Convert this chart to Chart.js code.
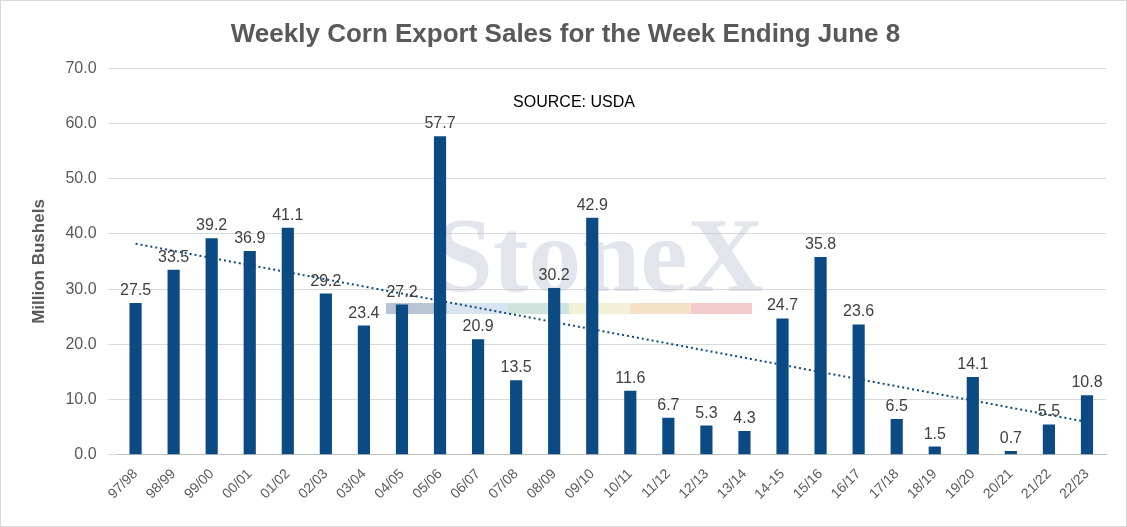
<!DOCTYPE html>
<html>
<head>
<script src="https://cdn.jsdelivr.net/npm/chart.js@4"></script>
<style>
  body { margin: 0; background: #fff; }
  #wrap { position: absolute; left: 0; top: 0; width: 1125px; height: 525px; border: 1px solid #d9d9d9; }
</style>
</head>
<body>
<div id="wrap"><canvas id="c" width="1125" height="525"></canvas></div>
<script>
const years = ['97/98','98/99','99/00','00/01','01/02','02/03','03/04','04/05','05/06','06/07','07/08','08/09','09/10',
  '10/11','11/12','12/13','13/14','14-15','15/16','16/17','17/18','18/19','19/20','20/21','21/22','22/23'];
const sales = [27.5,33.5,39.2,36.9,41.1,29.2,23.4,27.2,57.7,20.9,13.5,30.2,42.9,11.6,6.7,5.3,4.3,24.7,35.8,23.6,6.5,1.5,14.1,0.7,5.5,10.8];

// linear trend line fitted to the sales
const n = sales.length;
const mx = (n - 1) / 2;
const my = sales.reduce((a, b) => a + b, 0) / n;
let sxy = 0, sxx = 0;
sales.forEach((v, i) => { sxy += (i - mx) * (v - my); sxx += (i - mx) * (i - mx); });
const slope = sxy / sxx;
const trend = sales.map((_, i) => my + slope * (i - mx));

const extras = {
  id: 'extras',
  beforeDatasetsDraw(chart) {
    const { ctx } = chart;
    ctx.save();
    ctx.font = 'bold 106px "Liberation Serif"';
    ctx.fillStyle = 'rgba(185,194,208,0.42)';
    ctx.textAlign = 'center';
    ctx.fillText('StoneX', 598, 290);
    const cols = ['#b8c4d4','#d8e4f0','#cfe4dc','#f3f0d8','#f5e0c8','#f2cccc'];
    cols.forEach((c, i) => { ctx.fillStyle = c; ctx.fillRect(385 + i * 61, 302, 61, 11); });
    ctx.font = '16px "Liberation Sans"';
    ctx.fillStyle = '#000';
    ctx.fillText('SOURCE: USDA', 573, 106);
    ctx.restore();
  },
  afterDatasetsDraw(chart) {
    const { ctx } = chart;
    const meta = chart.getDatasetMeta(0);
    ctx.save();
    ctx.font = '16px "Liberation Sans"';
    ctx.fillStyle = '#404040';
    ctx.textAlign = 'center';
    meta.data.forEach((bar, i) => ctx.fillText(sales[i].toFixed(1), bar.x, bar.y - 8));
    ctx.restore();
  }
};

new Chart(document.getElementById('c'), {
  type: 'bar',
  data: {
    labels: years,
    datasets: [
      { data: sales, backgroundColor: '#0b4a82', barPercentage: 0.32, categoryPercentage: 1, order: 2 },
      { type: 'line', data: trend, borderColor: '#0b4a82', borderWidth: 2, borderDash: [2, 3], pointRadius: 0, fill: false, order: 1 }
    ]
  },
  options: {
    animation: false,
    responsive: false,
    devicePixelRatio: 1,
    layout: { padding: { left: 24, right: 20, top: 10, bottom: 20 } },
    plugins: {
      legend: { display: false },
      tooltip: { enabled: false },
      title: { display: true, text: 'Weekly Corn Export Sales for the Week Ending June 8',
        color: '#595959', font: { family: 'Liberation Sans', size: 26, weight: 'bold' }, padding: { top: 8, bottom: 18 } }
    },
    scales: {
      x: {
        grid: { display: false },
        border: { color: '#bfbfbf' },
        ticks: { color: '#595959', font: { family: 'Liberation Sans', size: 14 }, maxRotation: 45, minRotation: 45, autoSkip: false }
      },
      y: {
        min: 0, max: 70,
        ticks: { stepSize: 10, color: '#595959', padding: 12, font: { family: 'Liberation Sans', size: 16 }, callback: v => v.toFixed(1) },
        grid: { color: '#d9d9d9' },
        border: { display: false },
        title: { display: true, text: 'Million Bushels', color: '#595959', font: { family: 'Liberation Sans', size: 17, weight: 'bold' } }
      }
    }
  },
  plugins: [extras]
});
</script>
</body>
</html>
